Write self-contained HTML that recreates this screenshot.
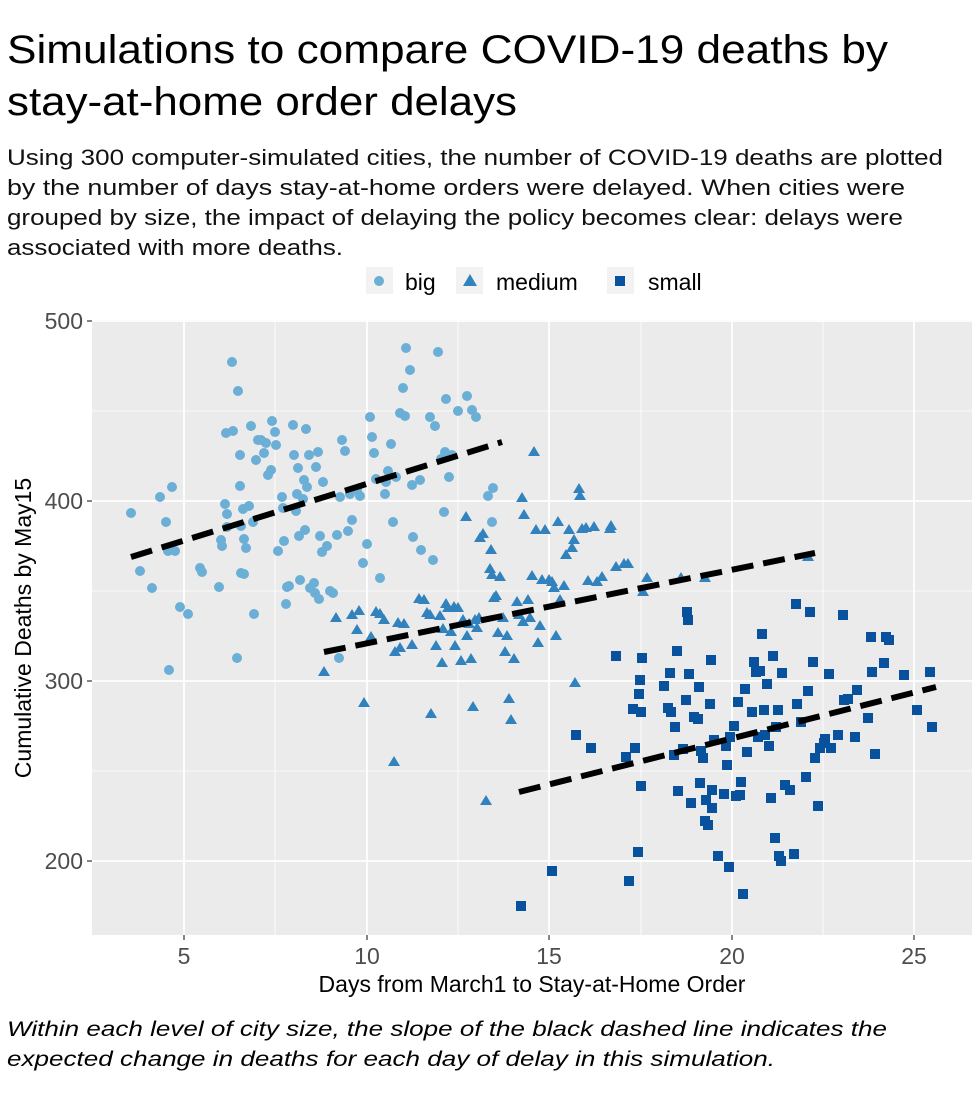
<!DOCTYPE html>
<html><head><meta charset="utf-8"><style>
body{margin:0;background:#fff;}
svg{display:block;font-family:"Liberation Sans",Arial,sans-serif;}
</style></head><body>
<svg width="980" height="1096" viewBox="0 0 980 1096" xmlns="http://www.w3.org/2000/svg">
<text x="7" y="63" font-size="40" fill="#000" textLength="881" lengthAdjust="spacingAndGlyphs">Simulations to compare COVID-19 deaths by</text>
<text x="7" y="115" font-size="40" fill="#000" textLength="510" lengthAdjust="spacingAndGlyphs">stay-at-home order delays</text>
<g font-size="22.5" fill="#111">
<text x="7" y="165" textLength="936" lengthAdjust="spacingAndGlyphs">Using 300 computer-simulated cities, the number of COVID-19 deaths are plotted</text>
<text x="7" y="195" textLength="898" lengthAdjust="spacingAndGlyphs">by the number of days stay-at-home orders were delayed. When cities were</text>
<text x="7" y="225" textLength="896" lengthAdjust="spacingAndGlyphs">grouped by size, the impact of delaying the policy becomes clear: delays were</text>
<text x="7" y="255" textLength="336" lengthAdjust="spacingAndGlyphs">associated with more deaths.</text>
</g>
<!-- legend -->
<rect x="366" y="267" width="27" height="27" fill="#f2f2f2"/>
<circle cx="379" cy="281" r="5" fill="#6baed6"/>
<text x="405" y="290" font-size="23" fill="#000">big</text>
<rect x="456" y="267" width="27" height="27" fill="#f2f2f2"/>
<polygon points="470,274 477,286 463,286" fill="#3182bd"/>
<text x="496" y="290" font-size="23" fill="#000">medium</text>
<rect x="607" y="267" width="27" height="27" fill="#f2f2f2"/>
<rect x="615" y="276" width="10" height="10" fill="#08519c"/>
<text x="648" y="290" font-size="23" fill="#000">small</text>
<!-- panel -->
<rect x="92" y="320" width="880" height="615" fill="#ebebeb"/>
<g stroke="#fff" stroke-width="0.8">
<line x1="92" x2="972" y1="411" y2="411"/><line x1="92" x2="972" y1="591" y2="591"/><line x1="92" x2="972" y1="771" y2="771"/>
<line y1="320" y2="935" x1="275" x2="275"/><line y1="320" y2="935" x1="458" x2="458"/><line y1="320" y2="935" x1="641" x2="641"/><line y1="320" y2="935" x1="823" x2="823"/>
</g>
<g stroke="#fff" stroke-width="1.8">
<line x1="92" x2="972" y1="321" y2="321"/><line x1="92" x2="972" y1="501" y2="501"/><line x1="92" x2="972" y1="681" y2="681"/><line x1="92" x2="972" y1="861" y2="861"/>
<line y1="320" y2="935" x1="184" x2="184"/><line y1="320" y2="935" x1="367" x2="367"/><line y1="320" y2="935" x1="549" x2="549"/><line y1="320" y2="935" x1="732" x2="732"/><line y1="320" y2="935" x1="914" x2="914"/>
</g>
<g stroke="#333" stroke-width="1.2">
<line x1="87" x2="92" y1="321" y2="321"/><line x1="87" x2="92" y1="501" y2="501"/><line x1="87" x2="92" y1="681" y2="681"/><line x1="87" x2="92" y1="861" y2="861"/>
<line y1="935" y2="940" x1="184" x2="184"/><line y1="935" y2="940" x1="367" x2="367"/><line y1="935" y2="940" x1="549" x2="549"/><line y1="935" y2="940" x1="732" x2="732"/><line y1="935" y2="940" x1="914" x2="914"/>
</g>
<g font-size="23" fill="#4d4d4d" text-anchor="end">
<text x="83" y="329">500</text><text x="83" y="509">400</text><text x="83" y="689">300</text><text x="83" y="869">200</text>
</g>
<g font-size="23" fill="#4d4d4d" text-anchor="middle">
<text x="184" y="964">5</text><text x="367" y="964">10</text><text x="549" y="964">15</text><text x="732" y="964">20</text><text x="914" y="964">25</text>
</g>
<text x="532" y="992" font-size="23" fill="#000" text-anchor="middle">Days from March1 to Stay-at-Home Order</text>
<text transform="translate(31,628) rotate(-90)" font-size="23" fill="#000" text-anchor="middle">Cumulative Deaths by May15</text>
<g font-size="21.5" font-style="italic" fill="#000">
<text x="7" y="1036" textLength="880" lengthAdjust="spacingAndGlyphs">Within each level of city size, the slope of the black dashed line indicates the</text>
<text x="7" y="1066" textLength="768" lengthAdjust="spacingAndGlyphs">expected change in deaths for each day of delay in this simulation.</text>
</g>
<!-- big -->
<g fill="#6baed6" id="big"></g>
<g fill="#3182bd" id="med"></g>
<g fill="#08519c" id="sml"></g>
<g stroke="#000" stroke-width="6" stroke-dasharray="22,10" fill="none">
<line x1="131" y1="557" x2="502" y2="442"/>
<line x1="324" y1="652" x2="815" y2="553"/>
<line x1="519" y1="792" x2="936" y2="687"/>
</g>
<script>
var ns="http://www.w3.org/2000/svg";
var big=[[131,513],[140,571],[152,588],[160,497],[166,522],[168,551],[172,487],[175,551],[169,670],[180,607],[188,614],[200,568],[202,572],[219,587],[221,540],[222,546],[226,433],[225,504],[227,514],[227,527],[232,362],[233,431],[238,391],[237,658],[240,455],[240,486],[241,526],[241,573],[243,509],[244,539],[244,574],[246,548],[249,506],[251,426],[253,522],[254,614],[256,460],[258,440],[261,440],[264,453],[266,443],[268,475],[271,470],[272,421],[275,432],[276,445],[278,551],[282,497],[283,508],[284,541],[286,604],[287,587],[289,586],[293,425],[294,455],[296,511],[297,494],[298,468],[299,536],[300,580],[303,499],[304,480],[305,530],[306,429],[307,487],[309,455],[310,588],[314,583],[315,593],[316,467],[318,452],[320,536],[322,552],[323,482],[327,546],[333,593],[337,535],[340,497],[342,440],[345,451],[348,531],[350,494],[352,520],[357,490],[360,496],[363,563],[367,544],[370,417],[372,437],[374,453],[376,479],[380,578],[385,494],[386,482],[388,471],[391,444],[393,522],[396,477],[400,413],[403,388],[405,416],[406,348],[410,370],[412,485],[413,537],[420,480],[421,550],[430,417],[433,560],[435,426],[438,352],[441,459],[444,512],[445,452],[446,399],[449,477],[452,455],[458,411],[467,396],[472,410],[476,417],[488,496],[493,488],[492,522],[319,599],[330,591],[339,658]];
var med=[[324,672],[336,618],[352,615],[357,630],[359,611],[364,703],[371,637],[376,612],[380,614],[384,620],[395,652],[394,762],[398,623],[400,648],[404,624],[412,645],[419,599],[424,600],[427,613],[430,615],[431,714],[436,646],[440,616],[442,663],[443,629],[446,604],[448,608],[451,632],[454,607],[455,646],[458,608],[461,661],[463,620],[466,517],[467,636],[469,624],[471,659],[473,707],[475,620],[477,628],[479,618],[480,538],[483,534],[486,801],[490,569],[491,550],[492,575],[494,598],[496,596],[498,633],[500,577],[503,618],[505,652],[507,636],[509,699],[511,720],[514,659],[517,602],[519,615],[522,498],[523,622],[524,515],[528,600],[530,618],[532,576],[534,452],[536,530],[538,643],[540,626],[542,580],[545,530],[549,580],[552,582],[554,588],[556,636],[558,522],[564,586],[566,555],[569,530],[572,548],[574,540],[575,683],[579,489],[580,496],[582,529],[586,528],[588,581],[594,527],[597,582],[602,577],[611,526],[616,567],[624,564],[628,564],[643,592],[647,578],[681,578],[705,578],[808,557],[610,529],[560,600]];
var sml=[[521,906],[552,871],[576,735],[591,748],[616,656],[626,757],[629,881],[633,709],[635,748],[638,852],[639,694],[641,712],[641,786],[642,658],[640,680],[664,686],[668,708],[670,673],[671,712],[674,755],[675,727],[677,651],[678,791],[683,749],[686,700],[687,612],[688,620],[689,674],[691,803],[694,717],[698,719],[699,687],[700,783],[701,751],[703,758],[705,821],[706,800],[708,825],[710,704],[711,660],[712,790],[712,808],[714,740],[718,856],[724,794],[726,746],[727,765],[729,867],[730,737],[734,726],[736,796],[738,702],[740,795],[741,782],[743,894],[745,689],[747,752],[752,712],[754,662],[756,672],[758,737],[760,671],[762,634],[764,710],[765,735],[767,684],[769,746],[771,798],[773,656],[775,838],[776,727],[778,710],[779,856],[781,861],[782,673],[785,785],[790,790],[794,854],[796,604],[797,704],[801,722],[806,777],[808,691],[810,612],[813,662],[815,758],[818,806],[820,748],[824,743],[825,739],[829,674],[831,748],[838,735],[843,615],[844,700],[848,699],[855,737],[857,690],[868,718],[871,637],[872,672],[875,754],[884,663],[886,637],[889,640],[904,675],[917,710],[930,672],[932,727]];
var g=document.getElementById("big");
big.forEach(function(p){var c=document.createElementNS(ns,"circle");c.setAttribute("cx",p[0]);c.setAttribute("cy",p[1]);c.setAttribute("r",5);g.appendChild(c);});
g=document.getElementById("med");
med.forEach(function(p){var c=document.createElementNS(ns,"polygon");c.setAttribute("points",p[0]+","+(p[1]-6)+" "+(p[0]+6)+","+(p[1]+4)+" "+(p[0]-6)+","+(p[1]+4));g.appendChild(c);});
g=document.getElementById("sml");
sml.forEach(function(p){var c=document.createElementNS(ns,"rect");c.setAttribute("x",p[0]-5);c.setAttribute("y",p[1]-5);c.setAttribute("width",10);c.setAttribute("height",10);g.appendChild(c);});
</script>
</svg>
</body></html>
